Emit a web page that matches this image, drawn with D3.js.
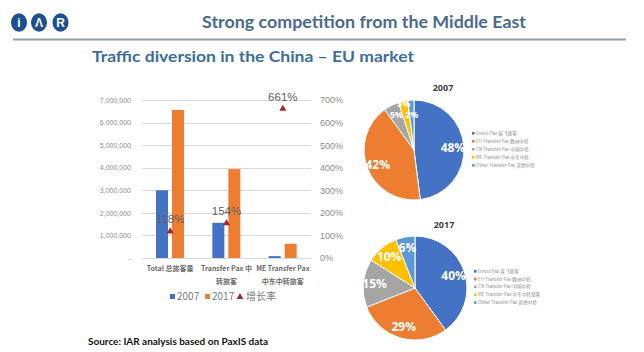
<!DOCTYPE html>
<html>
<head>
<meta charset="utf-8">
<script src="https://cdn.jsdelivr.net/npm/d3@7"></script>
<style>
  body { margin: 0; background: #fff; }
  svg { display: block; font-family: "Liberation Sans", Arial, sans-serif; }
</style>
</head>
<body>
<svg id="chart" width="644" height="352"></svg>
<script>
// bar chart data
const categories = ["Total 总旅客量", "Transfer Pax 中转旅客", "ME Transfer Pax 中东中转旅客"];
const categoryLines = [["Total 总旅客量"], ["Transfer Pax 中", "转旅客"], ["ME Transfer Pax", "中东中转旅客"]];
const seriesNames = ["2007", "2017"];
const pax2007 = [3000000, 1560000, 83000];
const pax2017 = [6560000, 3940000, 630000];
const growth = [118, 154, 661];
const growthName = "增长率";
const leftTicks = [0, 1000000, 2000000, 3000000, 4000000, 5000000, 6000000, 7000000];
const rightTicks = [0, 100, 200, 300, 400, 500, 600, 700];

// pie data
const pieLabels = ["Direct Pax 直飞旅客", "EU Transfer Pax 欧洲中转", "CN Transfer Pax 中国中转", "ME Transfer Pax 中东中转", "Other Transfer Pax 其他中转"];
const pieLabels2017 = ["Direct Pax 直飞旅客", "EU Transfer Pax 欧洲中转", "CN Transfer Pax 中国中转", "ME Transfer Pax 中东中转旅客", "Other Transfer Pax 其他中转"];
const share2007 = [48, 42, 5, 3, 2];
const share2017 = [40, 29, 15, 10, 6];

const barColors = ["#4472C4", "#ED7D31"];
const pieColors = ["#4472C4", "#ED7D31", "#A5A5A5", "#FFC000", "#5B9BD5"];
const cjk = "'Noto Sans CJK SC', 'Liberation Sans', sans-serif";

const svg = d3.select("#chart");

// ---- header ----
const logo = svg.append("g");
[["i", 19], ["Λ", 39], ["R", 60.5]].forEach(([ch, cx]) => {
  logo.append("ellipse").attr("cx", cx).attr("cy", 22.5).attr("rx", 8).attr("ry", 9.2).attr("fill", "#1d4f91");
  logo.append("text").attr("x", cx).attr("y", 27).attr("text-anchor", "middle")
    .attr("fill", "#fff").attr("font-size", 12).attr("font-weight", "bold").text(ch);
});

svg.append("text").attr("x", 202).attr("y", 28)
  .attr("font-family", "Lato, 'Open Sans', sans-serif").attr("font-weight", "bold")
  .attr("font-size", 17).attr("fill", "#4a6a8d")
  .attr("textLength", 324).attr("lengthAdjust", "spacingAndGlyphs")
  .text("Strong competition from the Middle East");

svg.append("line").attr("x1", 13).attr("x2", 626).attr("y1", 39.5).attr("y2", 39.5)
  .attr("stroke", "#8fa1b6").attr("stroke-width", 2);

svg.append("text").attr("x", 92).attr("y", 62)
  .attr("font-family", "Lato, 'Open Sans', sans-serif").attr("font-weight", "bold")
  .attr("font-size", 16).attr("fill", "#3b6d9d")
  .attr("textLength", 322).attr("lengthAdjust", "spacingAndGlyphs")
  .text("Traffic diversion in the China – EU market");

svg.append("text").attr("x", 88).attr("y", 345)
  .attr("font-family", "Lato, 'Open Sans', sans-serif").attr("font-weight", "bold")
  .attr("font-size", 10).attr("fill", "#111")
  .attr("textLength", 180).attr("lengthAdjust", "spacingAndGlyphs")
  .text("Source: IAR analysis based on PaxIS data");

// ---- bar chart ----
const x0 = d3.scaleBand().domain(categories).range([142, 311]);
const x1 = d3.scaleBand().domain(seriesNames).range([14, 42]).paddingInner(0.25);
const yL = d3.scaleLinear().domain([0, 7000000]).range([258, 100]);
const yR = d3.scaleLinear().domain([0, 700]).range([258, 100]);

const grid = svg.append("g");
grid.selectAll("line").data(leftTicks).join("line")
  .attr("x1", 142).attr("x2", 311)
  .attr("y1", d => Math.round(yL(d)) + 0.5).attr("y2", d => Math.round(yL(d)) + 0.5)
  .attr("stroke", "#d9d9d9").attr("stroke-width", 1);

const leftAxis = svg.append("g").attr("transform", "translate(134,0)")
  .call(d3.axisLeft(yL).tickValues(leftTicks).tickSize(0)
    .tickFormat(d => d === 0 ? "-" : d3.format(",")(d)));
leftAxis.select(".domain").remove();
leftAxis.selectAll("text").attr("font-size", 7).attr("fill", "#8c8c8c").attr("font-family", "'Liberation Sans', Arial");

const rightAxis = svg.append("g").attr("transform", "translate(317,0)")
  .call(d3.axisRight(yR).tickValues(rightTicks).tickSize(0).tickFormat(d => d + "%"));
rightAxis.select(".domain").remove();
rightAxis.selectAll("text").attr("font-size", 9).attr("fill", "#8c8c8c").attr("font-family", "'Liberation Sans', Arial");

const rows = categories.map((c, i) => ({ cat: c, vals: [pax2007[i], pax2017[i]], g: growth[i], lines: categoryLines[i] }));

const groups = svg.append("g").selectAll("g").data(rows).join("g")
  .attr("transform", d => `translate(${x0(d.cat)},0)`);

groups.selectAll("rect").data(d => d.vals.map((v, j) => ({ s: seriesNames[j], v, j }))).join("rect")
  .attr("x", d => x1(d.s)).attr("width", x1.bandwidth())
  .attr("y", d => yL(d.v)).attr("height", d => yL(0) - yL(d.v))
  .attr("fill", d => barColors[d.j]);

// category labels (squeezed to fit the band like the Excel original)
groups.each(function (d) {
  d.lines.forEach((ln, k) => {
    const t = d3.select(this).append("text")
      .attr("x", x0.bandwidth() / 2).attr("y", 271 + k * 13)
      .attr("text-anchor", "middle").attr("font-family", cjk)
      .attr("font-size", 7).attr("font-weight", "bold").attr("fill", "#6b6b6b")
      .text(ln);
    const w = t.node().getComputedTextLength();
    const maxW = x0.bandwidth() - 3;
    if (w > maxW) t.attr("textLength", maxW).attr("lengthAdjust", "spacingAndGlyphs");
  });
});

// growth markers
const tri = d3.symbol(d3.symbolTriangle).size(22);
groups.append("path").attr("d", tri)
  .attr("transform", d => `translate(${x0.bandwidth() / 2},${yR(d.g)})`)
  .attr("fill", "#a3262a");
groups.append("text")
  .attr("x", x0.bandwidth() / 2).attr("y", d => yR(d.g) - 8)
  .attr("text-anchor", "middle").attr("font-size", 11.5).attr("fill", "#5f5f5f")
  .text(d => d.g + "%");

// legend
const lg = svg.append("g").attr("font-family", cjk).attr("font-size", 10).attr("fill", "#7a7a7a");
seriesNames.forEach((s, i) => {
  const lx = [170, 205][i];
  lg.append("rect").attr("x", lx).attr("y", 294).attr("width", 5).attr("height", 5).attr("fill", barColors[i]);
  lg.append("text").attr("x", lx + 7).attr("y", 300).text(s);
});
lg.append("path").attr("d", d3.symbol(d3.symbolTriangle).size(20)).attr("transform", "translate(240,297)").attr("fill", "#a3262a");
lg.append("text").attr("x", 246).attr("y", 300).text(growthName);

// ---- pies ----
function drawPie(values, labels, title, cx, cy, r, titleY, legendX, legendY, legendStep) {
  const pie = d3.pie().sort(null).value(d => d)(values);
  const arc = d3.arc().innerRadius(0).outerRadius(r);
  // small slices: stagger label radius so the texts don't pile up
  let smallCount = 0;
  pie.forEach(d => {
    let k = 0.78;
    if (d.data < 4) { k = smallCount % 2 === 0 ? 0.95 : 0.7; smallCount++; }
    d.labelPos = d3.arc().innerRadius(r * k).outerRadius(r * k).centroid(d);
  });
  const g = svg.append("g").attr("transform", `translate(${cx},${cy})`);
  g.selectAll("path").data(pie).join("path")
    .attr("d", arc).attr("fill", (d, i) => pieColors[i])
    .attr("stroke", "#fff").attr("stroke-width", 1);
  g.selectAll("text").data(pie).join("text")
    .attr("x", d => d.labelPos[0])
    .attr("y", d => d.labelPos[1])
    .attr("dy", "0.35em").attr("text-anchor", "middle")
    .attr("font-family", "'Open Sans', sans-serif").attr("font-weight", "bold")
    .attr("font-size", d => d.data < 6 ? 9 : 12).attr("fill", "#fff")
    .text(d => d.data + "%");
  svg.append("text").attr("x", cx + 29).attr("y", titleY).attr("text-anchor", "middle")
    .attr("font-family", "'Open Sans', sans-serif").attr("font-weight", "bold")
    .attr("font-size", 9).attr("fill", "#404040").text(title);
  const lgp = svg.append("g").attr("font-family", cjk).attr("font-size", 4.6).attr("fill", "#8a8a8a");
  labels.forEach((l, i) => {
    lgp.append("rect").attr("x", legendX).attr("y", legendY + i * legendStep - 2).attr("width", 2.6).attr("height", 2.6).attr("fill", pieColors[i]);
    lgp.append("text").attr("x", legendX + 4).attr("y", legendY + i * legendStep + 0.8).text(l);
  });
}

drawPie(share2007, pieLabels, "2007", 414, 150, 50, 91, 472, 134, 8);
drawPie(share2017, pieLabels2017, "2017", 415, 288, 52, 228, 474, 272, 7.8);
</script>
</body>
</html>
